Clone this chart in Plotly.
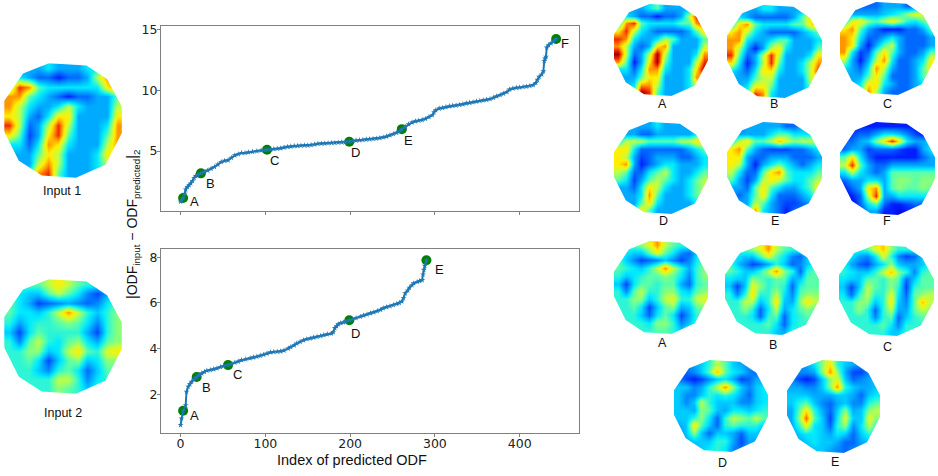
import plotly.graph_objects as go

W, H = 938, 476

# curve 1 (upper panel)
idx1 = [0,1,3,5,6,8,10,12,14,16,18,20,24,28,32,36,40,44,48,52,56,60,64,68,72,76,80,85,90,95,100,102,
        106,110,114,118,122,126,130,134,138,142,146,150,154,158,162,166,170,174,178,182,186,190,194,199,
        203,207,211,215,219,223,227,231,235,239,243,247,251,255,259,261,265,269,273,277,281,285,289,293,297,299,301,
        305,309,313,317,321,325,329,333,337,341,345,349,353,357,361,365,369,373,377,381,385,388,392,396,400,404,408,412,416,
        419,421,423,426,428,429,430,431,432,434,437,440,443]
val1 = [0.85,0.95,1.15,1.5,1.85,2.05,2.2,2.35,2.55,2.8,2.95,3.05,3.17,3.3,3.4,3.55,3.7,3.9,4.1,4.2,4.25,4.45,4.65,4.75,4.85,4.85,4.9,4.95,5.0,5.05,5.1,5.11,
        5.13,5.17,5.2,5.23,5.3,5.35,5.38,5.42,5.43,5.45,5.47,5.47,5.5,5.55,5.6,5.62,5.63,5.65,5.67,5.68,5.7,5.72,5.73,5.77,
        5.83,5.87,5.9,5.92,5.95,5.98,6.0,6.03,6.07,6.13,6.2,6.3,6.4,6.5,6.65,6.8,7.0,7.2,7.35,7.45,7.5,7.55,7.65,7.8,7.95,8.2,8.35,
        8.5,8.55,8.62,8.68,8.72,8.75,8.8,8.85,8.92,8.97,9.02,9.07,9.12,9.17,9.22,9.27,9.38,9.5,9.6,9.72,9.85,10.05,10.15,10.2,10.23,10.27,10.3,10.35,10.42,
        10.6,10.85,11.1,11.3,11.55,12.4,12.6,12.75,13.5,13.7,13.85,14.0,14.2]
pick_x1 = [3,24,102,199,261,443]
pick_y1 = [1.15,3.17,5.11,5.77,6.8,14.2]
pick_names1 = ['A','B','C','D','E','F']
shift_x1 = [11,10,7,6,7,9]
shift_y1 = [-4,-10,-11,-11,-11,-4]

# curve 2 (lower panel)
idx2 = [0,1,3,6,7,9,11,13,16,19,22,25,28,31,35,39,43,47,51,56,60,64,68,72,77,82,86,90,94,98,102,106,110,114,118,122,127,130,134,137,141,145,149,153,157,161,165,169,173,178,
        180,182,184,186,189,192,195,199,203,207,212,216,220,224,228,232,236,239,243,247,251,255,258,261,263,265,268,270,273,275,279,282,285,286,287,288,290]
val2 = [0.66,0.95,1.28,1.53,2.12,2.34,2.45,2.55,2.66,2.76,2.85,2.92,2.98,3.04,3.07,3.1,3.14,3.2,3.24,3.28,3.33,3.39,3.44,3.5,3.54,3.58,3.62,3.65,3.69,3.74,3.79,3.84,3.86,3.87,3.88,3.92,4.01,4.07,4.15,4.23,4.3,4.37,4.42,4.45,4.49,4.52,4.56,4.6,4.63,4.66,
        4.72,4.9,4.98,5.07,5.12,5.15,5.19,5.24,5.29,5.34,5.4,5.45,5.5,5.55,5.59,5.65,5.7,5.77,5.82,5.86,5.91,5.96,6.0,6.06,6.22,6.42,6.55,6.67,6.78,6.86,6.92,6.96,7.0,7.25,7.45,7.63,7.87]
pick_x2 = [3,19,56,199,290]
pick_y2 = [1.28,2.76,3.28,5.24,7.87]
pick_names2 = ['A','B','C','D','E']
shift_x2 = [11,10,9,6,13]
shift_y2 = [-5,-10,-9,-13,-9]

xticks = [0,100,200,300,400]
yticks1 = [5,10,15]
yticks2 = [2,4,6,8]

# 12x12 colour level grids of the rendered ODFs, level 0 = dark blue, 10 = dark red
input1 = [[3,3,3,3,4,3,3,3,4,4,5,5],
          [4,4,3,2,2,1,2,2,3,6,8,8],
          [5,9,8,5,4,4,4,4,4,4,7,8],
          [8,8,5,4,3,2,1,2,2,3,3,5],
          [8,6,4,3,3,4,6,4,3,3,3,6],
          [7,6,3,2,4,7,7,3,3,3,3,7],
          [9,6,2,3,6,9,6,3,3,3,4,8],
          [7,5,1.5,3,7,9,5,3,3,3,5,8],
          [4,4,2,4,8,7,4,3,3,3,6,8],
          [3,3,3,5,7,6,3,3,3,4,7,7],
          [3,3,3,6,8,6,3,3,3,4,6,6],
          [3,3,4,8,9,5,3,3,3,4,5,5]]
input2 = [[5,5,5,5,6,7,6,5,4.5,4.5,4.5,4.5],
          [4.5,4,3.5,3.5,5,6,5,4,2.5,1.5,3,4.5],
          [5,4,3,1.5,2,2.5,3,2.5,2,2.5,4,5],
          [5,4,4,3.5,4.5,6,8,6,4.5,3.5,4.5,5.5],
          [4.5,3,4,4.5,4.5,5,5.5,5,4,2.5,4.5,5.5],
          [3.5,1.5,4,5,4.5,4.5,4.5,4.5,3,1.5,4.5,5.5],
          [4.5,2.5,5,6,4.5,4,5,5.5,4,3,5,5.5],
          [4.5,4.5,5.5,5.5,3.5,4,6,7,5,4.5,6.5,7],
          [4.5,4.5,5,4,1.5,3.5,5,5.5,3.5,4,5.5,5.5],
          [4.5,4.5,4.5,3.5,2.5,4.5,5,4,2,3.5,5,5],
          [4.5,4.5,4.5,4.5,4.5,6,6,4.5,2.5,4,4.5,4.5],
          [4.5,4.5,4.5,4.5,4.5,5.5,5,4.5,3.5,4.5,4.5,4.5]]
a1 = [[3,3,3,3,4,5,3,3,3,3,4,4],
      [3,4,3,2,2,1,2,2,3,6,9,8],
      [4,8,9,5,4,4,4,4,5,5,8,9],
      [7,9,6,4,3,2,2,2,2,3,5,7],
      [9,8,4,3,3,4,6,5,3,3,3,5],
      [8,6,3,2,3,7,8,3,3,3,3,6],
      [10,6,2,3,6,10,6,3,3,3,4,8],
      [8,5,1,3,7,10,5,3,3,3,6,9],
      [4,4,2,4,8,8,4,3,3,4,7,10],
      [3,3,3,5,7,7,3,3,3,4,8,8],
      [3,3,4,8,8,6,3,3,3,4,6,6],
      [3,3,5,10,9,5,3,3,3,4,5,5]]
b1 = [[3,3,3,3,4,4,3,3,3,3,4,4],
      [3,4,3,2,2,2,2,2,3,5,7,7],
      [4,7,8,5,4,4,4,4,5,5,7,8],
      [7,8,6,4,3,2,2,2,2,3,4,5],
      [8,8,4,3,3,4,5,5,3,3,3,4],
      [8,6,3,1,3,6,7,4,3,3,3,5],
      [9,5,2,3,6,9,6,3,3,3,4,7],
      [7,4,1,3,6,9,5,3,3,4,6,8],
      [4,3,2,4,7,7,4,3,3,4,6,9],
      [3,3,3,5,6,6,3,3,3,3,6,7],
      [3,3,4,7,7,5,3,3,3,3,5,5],
      [3,3,5,9,8,4,3,3,3,3,4,4]]
c1 = [[2,2,2,2,2,3,3,3,2,2,3,3],
      [2,3,3,3,3,3.5,4,4.5,5.5,6.5,6.5,6],
      [4,6.5,7,5.5,5,6,7,6,4.5,4,5,6],
      [7,8,5,3,2,1,1,1,2,2,3,5],
      [8,7,4,2,2,3,4,3,2,2,2,3],
      [8,7,3,1,3,5,6,3,2,2,2,3],
      [8,4,1.5,2,5,7,5,3,2,2,3,5],
      [6,3,1,3,6,8,4,2,2,3,4,7],
      [4,3,2,4,8,6,3,2,2,3,5,7],
      [3,3,3,5,7,5,2,2,2,3,5,6],
      [3,3,4,7,7,4,3,2,2,3,4,4],
      [3,3,4,8,6,3,2,2,2,3,3,3]]
d1 = [[3,3,3,3,3,4,3,3,3,3,3,3],
      [3,3,3,2,2,3,3,3,3,3,4,4],
      [4,6,6,6,5,5,5,5,6,6,7,7],
      [7,7,4,2,2,2,2,2,2,3,4,5],
      [7,6,3,1.5,2,3,3,3,2,2,3,4],
      [7,8,3,1,2,3,4,4,3,3,3,4],
      [6,5,2,2,4,5,6,4,3,3,4,5],
      [5,4,1.5,3,5,6,5,4,3,4,5,6],
      [3,3,2,4,7,6,4,3,3,4,5,6],
      [3,3,3,4,8,5,3,3,3,4,5,6],
      [3,3,3,5,7,4,3,3,3,3,4,5],
      [3,3,4,7,5,3,3,3,3,3,3,4]]
e1 = [[2,2,3,3,3,3,3,2,2,3,3,3],
      [3,3,3,3,3,4,5,5,4,4,4,3.5],
      [4,6,7,5,5,6,7.5,6.5,5.5,6,6,6],
      [7,8,5,3,2,1.5,1.5,1.5,2,2,3,4],
      [7,7,3,2,2,3,3,3,2,2,2,3],
      [7,6,3,1,3,4,5,4,3,2,3,4],
      [6,4,2,2,5,7,8,5,4,4,4,5],
      [5,3,1.5,3,6,7,6,5,4,4,5,6],
      [3,3,2,5,7,5,4,3,3,4,5,7],
      [3,2,3,5,7,4,2,2,2,3,4,6],
      [3,3,3,6,5,3,2,1.5,1.5,2,3,4],
      [3,3,4,8,4,3,2,1,2,2,3,3]]
f1 = [[1,1,1,1,1,1,1,1,1,1,1,1],
      [1,1.5,2,2,3,4,4,3.5,2.5,1.5,1,1],
      [2,2,3,3.5,5.5,7,9,7,4,3,3,3.5],
      [2,3,3,1.5,2,2,2,1.5,1,1,3,4],
      [5,7,4,2,1,1,1,1,1,1,2,3],
      [6,9,5,3,2,2,3,3,3,3,3,3],
      [4,6,4,3,2,3,5,5,5,5,5,5],
      [2,3,3,4,4,3,5,5.5,5.5,5,5.5,5.5],
      [1,2,3,7,8,3,5,5.5,5,5,5.5,5],
      [0.5,1,2,6,9,3,3,4,4,4,4,4],
      [0.5,0.5,2,4,5,2,1,1,1.5,2,2,2],
      [0.5,0.5,1,3,3,1,1,0.5,1,1,1,1]]
a2 = [[5,5,5,5.5,6.5,8,6,5,4.5,4.5,4.5,4.5],
      [4.5,4,3.5,3.5,5,6.5,5,4,2.5,2,3.5,4.5],
      [5,3.5,2.5,1.5,2,2.5,3.5,2.5,1.5,2.5,4,5],
      [5,4.5,4,3.5,4.5,6,8,6,4.5,3,4.5,5.5],
      [4.5,3.5,4,4.5,5,5,5.5,5,4,2.5,4.5,5.5],
      [3.5,1.5,4,5,5,4.5,5,5,3,2,4.5,5],
      [4.5,2.5,5,6,4.5,4.5,5.5,5.5,4,3.5,5,5.5],
      [4.5,4.5,5.5,5.5,3.5,4.5,6,6.5,4.5,4.5,6,6.5],
      [4.5,4.5,5,4,1.5,3.5,5,5.5,3,3.5,5,5.5],
      [4.5,4.5,4.5,3.5,2,4,5,4,1.5,3,4.5,5],
      [4.5,4.5,4.5,4.5,4,5.5,5.5,4.5,2.5,3.5,4.5,4.5],
      [4.5,4.5,4.5,4.5,4.5,5,5,4.5,3.5,4.5,4.5,4.5]]
b2 = [[5,5,5,5.5,6.5,8,6,5,4.5,4.5,4.5,4.5],
      [4.5,4,3.5,3.5,5,6.5,5,4,2.5,2,3.5,4.5],
      [5,3.5,2.5,1.5,2,3,4.5,3.5,2,2.5,3.5,4.5],
      [5,4.5,3.5,3.5,4.5,6,8,5.5,4.5,2,4.5,5],
      [4,3.5,3.5,5.5,5,4.5,5,5,3,3.5,5,5],
      [3.5,1.5,3.5,6.5,5.5,4.5,5,4.5,2,4.5,5,5],
      [4.5,2.5,4.5,7,4.5,4.5,6,4,2.5,5,5.5,5.5],
      [4.5,4.5,6,6,3.5,4.5,7,3.5,3,5.5,7,6],
      [4.5,4.5,5.5,4.5,2,4,6,3,4,5,5.5,5],
      [4.5,4.5,4.5,4,2,4.5,5,2,4,4.5,5,5],
      [4.5,4.5,4.5,4.5,4.5,5,4,2,4,4.5,4.5,4.5],
      [4.5,4.5,4.5,4.5,4.5,4.5,3.5,3,4.5,4.5,4.5,4.5]]
c2 = [[4.5,4.5,4.5,5,6.5,7.5,5.5,4.5,4.5,4.5,4.5,4.5],
      [4.5,4,3,2.5,4,6.5,4.5,2.5,1.5,2,3.5,4.5],
      [4.5,3,2,1.5,3,4,5.5,3.5,3,3,3.5,4.5],
      [4.5,4,3.5,3.5,4.5,6,7.5,5.5,4.5,2.5,4.5,5],
      [4,3.5,3.5,5,5,4.5,5.5,5,2,3.5,5,5],
      [3.5,1.5,3.5,6,5,4.5,5.5,4.5,1.5,4.5,5,5],
      [4,2,4.5,6,4.5,4.5,6.5,4,2,5,5.5,6],
      [4.5,4.5,5.5,5.5,3.5,4.5,7,3.5,2.5,5,7.5,6],
      [4.5,4.5,5.5,4.5,2,4.5,6,3,3,5,6,5.5],
      [4.5,4.5,4.5,4.5,2.5,4.5,5,2,3.5,4.5,5,5],
      [4.5,4.5,4.5,4.5,4.5,5,4,2.5,4.5,4.5,4.5,4.5],
      [4.5,4.5,4.5,4.5,4.5,4.5,3.5,3.5,4.5,4.5,4.5,4.5]]
d2 = [[2.5,2.5,3,3.5,4.5,6,5,3.5,3,2.5,2,2],
      [2,2,2.5,3.5,5,7.5,5,4,3.5,2.5,2,2],
      [2.5,1.5,1,1.5,2.5,3.5,4,3,1.5,2,3,3],
      [3.5,3.5,2.5,3,4.5,6,8,5.5,3.5,2.5,3.5,4],
      [3.5,2.5,2.5,3.5,4.5,4,4.5,4,3,2,3.5,4],
      [3.5,2.5,3.5,6,4.5,3.5,3.5,3.5,2.5,2.5,3.5,4],
      [3.5,3.5,3,5.5,5,3.5,3,4,4,3.5,4,4.5],
      [3.5,3.5,4.5,5.5,4,2,4.5,6,5.5,5,6,5],
      [3,3.5,7,5,3.5,2,4.5,5,4.5,4.5,4.5,3.5],
      [2.5,3.5,5.5,3.5,2,3.5,3.5,3,2,3.5,3.5,3],
      [2,3,3.5,3.5,3.5,4.5,4.5,3,1.5,3,3,2.5],
      [2,2,3,3.5,4,4.5,4,2.5,2,3,3,2]]
e2 = [[2.5,2.5,3,4,5.5,7,4.5,3.5,3,2.5,2.5,2.5],
      [2.5,2.5,2.5,3,5.5,8,5.5,3,1.5,1.5,2.5,2.5],
      [2.5,1.5,1,1.5,3.5,5.5,6.5,3.5,2,2.5,3,3.5],
      [3,3,2.5,2.5,3.5,5.5,8,4.5,3.5,3,3,3.5],
      [3.5,3.5,3.5,3,3,3,3.5,3.5,3,2,3.5,4],
      [3.5,4.5,5,3.5,2.5,2,3,3.5,2.5,2.5,4.5,5],
      [3,5,7,4.5,3,2,3.5,5.5,3,3.5,5.5,6],
      [3,5.5,8.5,5,3.5,1.5,4,6.5,3.5,3.5,6.5,5.5],
      [3,4.5,6.5,4,3.5,2,4.5,5.5,2.5,4,6,4.5],
      [2.5,3.5,4,4,3.5,3,4,3.5,2,3.5,4.5,3.5],
      [2.5,3,3.5,4,3.5,3.5,3,2,2,3,3.5,2.5],
      [2.5,2.5,3,3.5,3.5,3,2.5,2,2.5,2.5,2.5,2.5]]

# outline of the polyhedron, fractions of its box (y measured downward)
outline_x = [.16,.38,.70,.875,1,1,.86,.61,.32,.125,0,0]
outline_y = [.09,0,.02,.14,.38,.61,.885,1,.98,.85,.595,.33]

# grid, pixel box (x0,x1,y0,y1), caption, caption centre px
balls = [(input1,3,123,62,179,'Input 1',62,191),
         (input2,3,123,278,395,'Input 2',63,413),
         (a1,613,709,3,97,'A',662,104),
         (b1,726,823,4,99,'B',774,104),
         (c1,839,936,1,96,'C',887,104),
         (d1,613,709,121,215,'D',663,221),
         (e1,726,823,121,215,'E',775,221),
         (f1,839,936,121,216,'F',887,221),
         (a2,613,709,240,335,'A',662,343),
         (b2,724,820,244,336,'B',773,345),
         (c2,838,935,244,337,'C',887,347),
         (d2,673,769,359,453,'D',722,463),
         (e2,786,881,359,454,'E',835,462)]

jet = [[0,'rgb(0,0,190)'],[0.1,'rgb(0,30,255)'],[0.2,'rgb(0,105,255)'],[0.3,'rgb(0,170,255)'],
       [0.4,'rgb(0,235,255)'],[0.5,'rgb(90,255,170)'],[0.6,'rgb(190,255,70)'],[0.7,'rgb(255,240,0)'],
       [0.8,'rgb(255,150,0)'],[0.9,'rgb(240,40,0)'],[1,'rgb(165,0,0)']]

blue = '#1f77b4'
grey = '#808080'
sans = 'Liberation Sans'
fig = go.Figure()
annos = []

def px_x(a): return a / W
def px_y(b): return 1 - b / H

def curve_panel(n, xs, ys, px, py, names, sx, sy, y0, y1, ticks, top, bottom, showx):
    xa, ya = 'x' + str(n), 'y' + str(n)
    fig.add_trace(go.Scatter(x=px, y=py, mode='markers', marker=dict(color='green', size=10), xaxis=xa, yaxis=ya, showlegend=False))
    fig.add_trace(go.Scatter(x=xs, y=ys, mode='lines+markers', line=dict(color=blue, width=2),
                             marker=dict(symbol='star', color=blue, size=4.5), xaxis=xa, yaxis=ya, showlegend=False))
    fig.update_layout({
        'xaxis' + str(n): dict(domain=[px_x(161), px_x(579)], range=[-23.1, 470], anchor=ya, tickvals=xticks, showticklabels=showx,
                               ticks='outside', ticklen=3, tickcolor=grey, showgrid=False, zeroline=False, mirror=True, ticklabelstandoff=-4,
                               showline=True, linecolor=grey, linewidth=1, tickfont=dict(family='DejaVu Sans', size=12.5, color='#222')),
        'yaxis' + str(n): dict(domain=[px_y(bottom), px_y(top)], range=[y0, y1], anchor=xa, tickvals=ticks,
                               ticks='outside', ticklen=3, tickcolor=grey, showgrid=False, zeroline=False, mirror=True, ticklabelstandoff=-3,
                               showline=True, linecolor=grey, linewidth=1, tickfont=dict(family='DejaVu Sans', size=12.5, color='#222'))})
    for i in range(len(names)):
        annos.append(dict(x=px[i], y=py[i], xref=xa, yref=ya, text=names[i], showarrow=False, xshift=sx[i], yshift=sy[i],
                          xanchor='center', yanchor='middle', font=dict(family=sans, size=13, color='#111')))

curve_panel(1, idx1, val1, pick_x1, pick_y1, pick_names1, shift_x1, shift_y1, 0.08, 15.27, yticks1, 26, 211, False)
curve_panel(2, idx2, val2, pick_x2, pick_y2, pick_names2, shift_x2, shift_y2, 0.31, 8.36, yticks2, 249, 433, True)

n = 3
cells = [(i + 0.5) / 12 for i in range(12)]
hole_x = [-.01, 1.01, 1.01, -.01, -.01] + [outline_x[0]] + outline_x[::-1] + [-.01]
hole_y = [-.01, -.01, 1.01, 1.01, -.01] + [outline_y[0]] + outline_y[::-1] + [-.01]
for grid, x0, x1, y0, y1, cap, cx, cy in balls:
    xa, ya = 'x' + str(n), 'y' + str(n)
    fig.add_trace(go.Heatmap(z=grid, x=cells, y=cells, zmin=0, zmax=10, colorscale=jet, zsmooth='best',
                             showscale=False, xaxis=xa, yaxis=ya, hoverinfo='skip'))
    fig.add_trace(go.Scatter(x=hole_x, y=hole_y, mode='lines', fill='toself', fillcolor='white', line=dict(width=0),
                             xaxis=xa, yaxis=ya, showlegend=False, hoverinfo='skip'))
    fig.update_layout({
        'xaxis' + str(n): dict(domain=[px_x(x0), px_x(x1)], range=[-.01, 1.01], visible=False, anchor=ya),
        'yaxis' + str(n): dict(domain=[px_y(y1), px_y(y0)], range=[1.01, -.01], visible=False, anchor=xa)})
    annos.append(dict(x=px_x(cx), y=px_y(cy), xref='paper', yref='paper', text=cap, showarrow=False, xanchor='center', yanchor='middle',
                      font=dict(family=sans, size=12.5, color='#111')))
    n += 1

annos.append(dict(x=px_x(352), y=px_y(460), xref='paper', yref='paper', text='Index of predicted ODF', showarrow=False,
                  xanchor='center', yanchor='middle', font=dict(family=sans, size=14.5, color='#111')))
annos.append(dict(x=px_x(133), y=px_y(225), xref='paper', yref='paper', textangle=-90, showarrow=False,
                  text='|ODF<sub>input</sub> − ODF<sub>predicted</sub>|<sub>2</sub>', xanchor='center', yanchor='middle',
                  font=dict(family=sans, size=14, color='#111')))

fig.update_layout(width=W, height=H, margin=dict(l=0, r=0, t=0, b=0, autoexpand=False), plot_bgcolor='white', paper_bgcolor='white',
                  annotations=annos, showlegend=False)
fig.write_html("out.html", config=dict(displayModeBar=False), post_script="document.body.style.margin='0';")
